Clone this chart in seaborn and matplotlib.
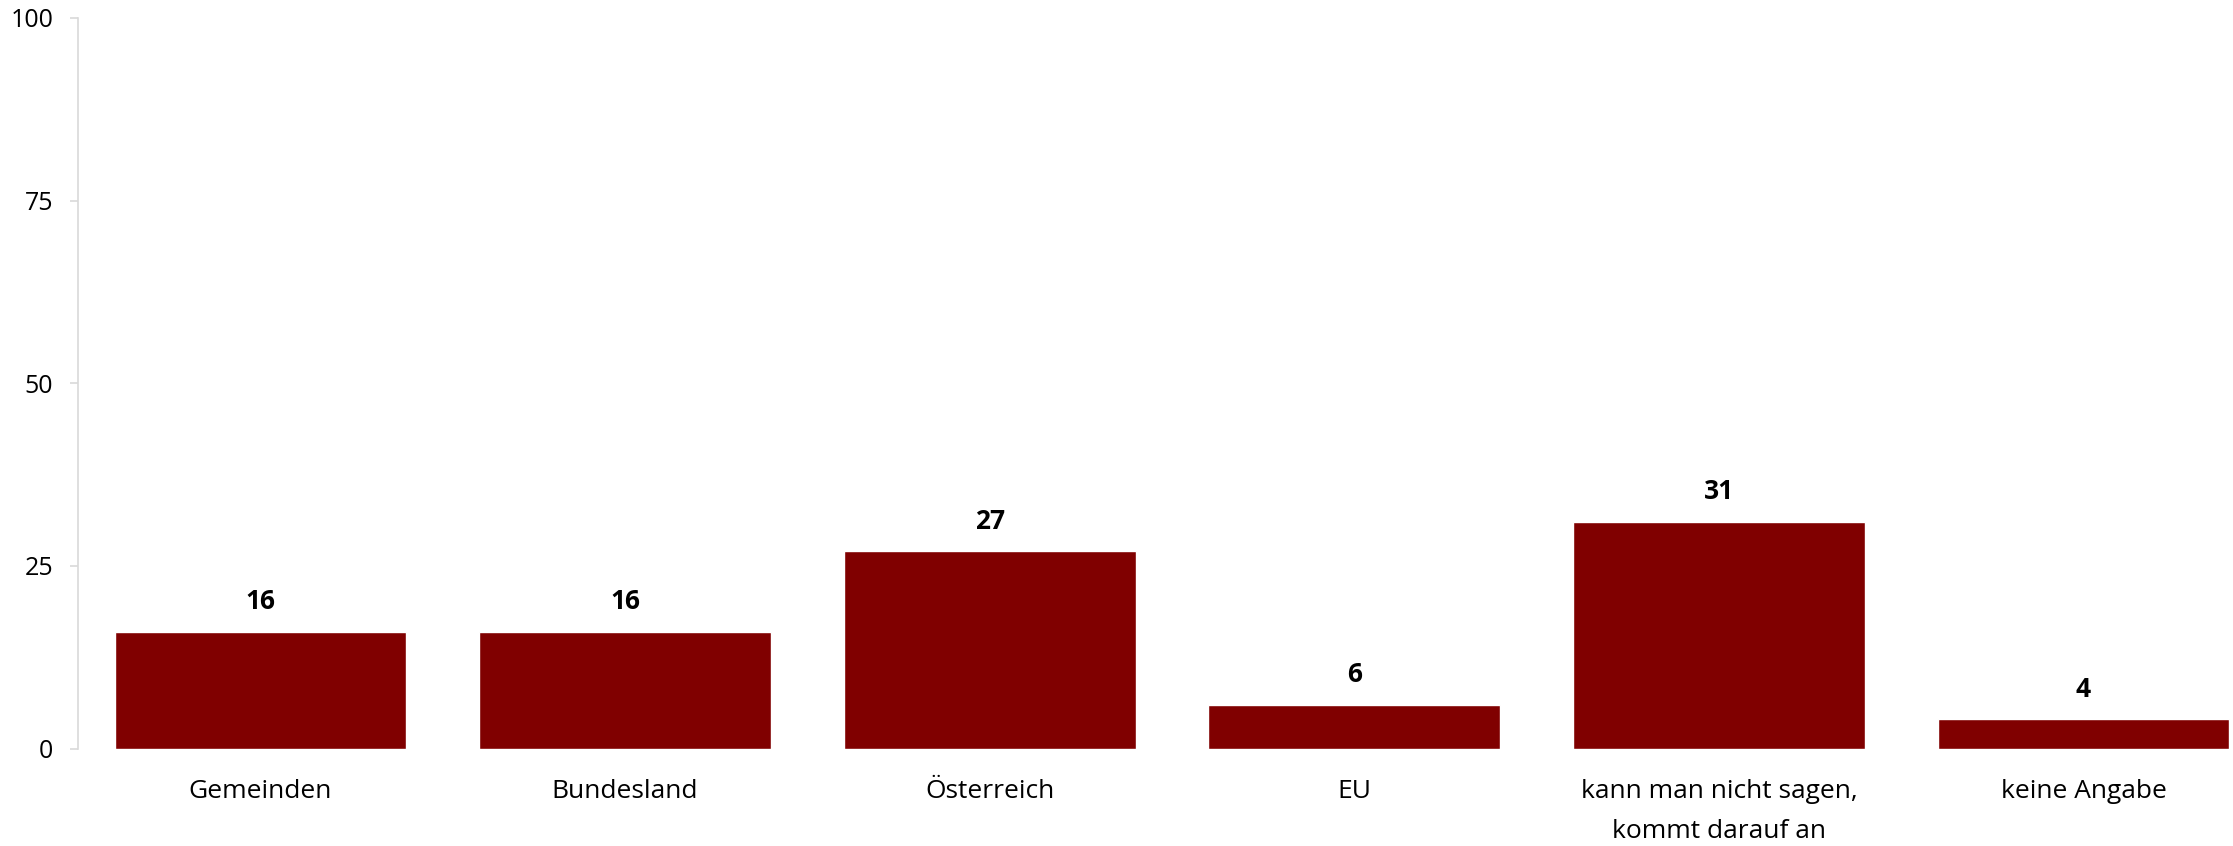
import pandas as pd
import matplotlib
matplotlib.use("Agg")
import matplotlib.pyplot as plt
import seaborn as sns

# data
categories = ["Gemeinden", "Bundesland", "Österreich", "EU",
              "kann man nicht sagen,\nkommt darauf an", "keine Angabe"]
values = [16, 16, 27, 6, 31, 4]
yticks = [0, 25, 50, 75, 100]

df = pd.DataFrame({"Kategorie": categories, "Wert": values})

sns.set_style("white")
plt.rcParams["font.family"] = ["Open Sans", "DejaVu Sans"]

fig = plt.figure(figsize=(22.33, 8.46), dpi=100)
ax = fig.add_axes([0.035, 0.115, 0.965, 0.864])

sns.barplot(data=df, x="Kategorie", y="Wert", color="#800000",
            saturation=1, width=0.8, ax=ax)

ax.set_xlim(-0.5, 5.41)
ax.set_ylim(0, 100)
ax.set_yticks(yticks)
ax.set_xlabel("")
ax.set_ylabel("")

for s in ["top", "right", "bottom"]:
    ax.spines[s].set_visible(False)
ax.spines["left"].set_color("#d9d9d9")
ax.spines["left"].set_linewidth(1.2)

ax.tick_params(axis="y", length=6, width=1.2, color="#d9d9d9",
               pad=12, labelsize=18, labelcolor="black", left=True)
ax.tick_params(axis="x", length=0, pad=22, labelsize=19, labelcolor="black")
for lbl in ax.get_xticklabels():
    lbl.set_linespacing(1.75)

for i, v in enumerate(values):
    ax.annotate(str(v), (i, v), xytext=(0, 12), textcoords="offset points",
                ha="center", va="bottom", fontsize=19, fontweight="bold",
                color="black")

fig.savefig("out.png", dpi=100)
